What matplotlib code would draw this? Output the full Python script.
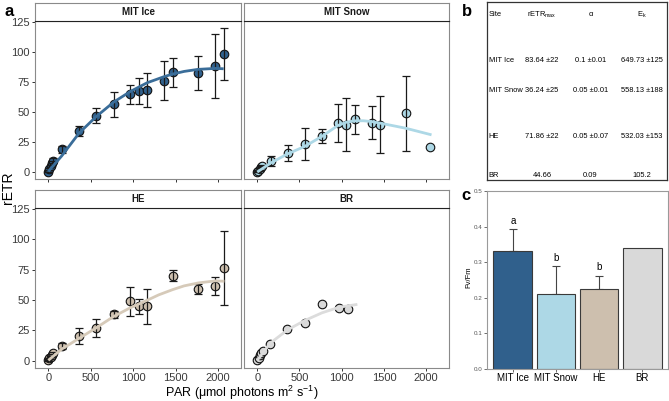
import numpy as np
import matplotlib.pyplot as plt

plt.rcParams.update({"font.family": ["Liberation Sans", "DejaVu Sans"],
                     "mathtext.fontset": "custom",
                     "mathtext.rm": "Liberation Sans",
                     "mathtext.it": "Liberation Sans:italic"})

W, H = 669, 401

# ---- panel a data: rapid light curves (PAR, rETR, se) ----
ice_par = [0, 12, 27, 43, 60, 158, 362, 563, 772, 968, 1067, 1165, 1358, 1464, 1763, 1967, 2066]
ice_etr = [0, 2.5, 5, 7.5, 9.5, 19.0, 34.2, 46.9, 56.3, 64.6, 67.6, 67.9, 75.9, 82.8, 82.5, 88.3, 97.9]
ice_se = [0.3, 0.6, 1.0, 1.5, 2.0, 3.0, 4.4, 6.0, 10.6, 7.9, 10.9, 14.0, 16.3, 12.0, 14.2, 26.7, 21.5]
ice_fit_par = [0, 158, 362, 563, 772, 968, 1165, 1358, 1464, 1600, 1763, 1967, 2066]
ice_fit = [0.5, 13.4, 32.3, 46.0, 58.2, 67.0, 74.2, 79.1, 81.4, 83.6, 85.3, 86.1, 85.8]

snow_par = [0, 12, 27, 43, 60, 157, 360, 560, 763, 953, 1050, 1152, 1355, 1457, 1757, 2050]
snow_etr = [0, 1.2, 2.5, 3.8, 5.0, 9.1, 16.0, 23.2, 29.8, 40.8, 39.4, 43.9, 41.1, 39.4, 48.8, 20.9]
snow_se = [0.2, 0.4, 0.6, 0.8, 1.0, 4.0, 6.5, 13.0, 6.0, 15.5, 22.0, 12.0, 13.4, 23.5, 31.0, None]
snow_fit_par = [0, 157, 360, 560, 763, 953, 1050, 1152, 1255, 1355, 1457, 1757, 2063]
snow_fit = [0, 7.4, 15.1, 21.2, 29.5, 38.6, 41.3, 42.5, 42.6, 41.9, 40.6, 36.4, 30.9]

he_par = [0, 12, 27, 43, 60, 158, 362, 563, 768, 965, 1063, 1162, 1464, 1767, 1967, 2066]
he_etr = [0.5, 2.0, 3.5, 5.0, 6.5, 12.1, 20.4, 27.1, 38.3, 48.8, 44.7, 44.7, 69.8, 58.8, 61.3, 76.4]
he_se = [0.2, 0.4, 0.6, 0.8, 1.0, 2.5, 6.6, 7.3, 3.0, 12.0, 5.8, 14.4, 4.5, 4.0, 7.2, 30.3]
he_fit_par = [0, 158, 362, 563, 768, 965, 1162, 1300, 1464, 1600, 1767, 1967, 2075]
he_fit = [0.5, 9.7, 18.5, 27.1, 36.4, 43.6, 49.7, 54.2, 58.5, 61.6, 64.0, 65.7, 65.4]

br_par = [0, 15, 32, 50, 70, 149, 356, 560, 767, 971, 1072]
br_etr = [0.5, 2.8, 4.9, 6.6, 8.3, 13.8, 26.2, 31.2, 46.4, 43.6, 42.8]
br_se = [None] * 11
br_fit_par = [0, 149, 356, 560, 767, 971, 1185]
br_fit = [0.5, 14.3, 25.4, 33.1, 39.5, 44.1, 46.4]

# ---- panel b table ----
tab_header = ["Site", r"rETR$_{\mathregular{max}}$", "\u03b1", r"E$_{\mathregular{k}}$"]
tab_sites = ["MIT Ice", "MIT Snow", "HE", "BR"]
tab_retr = ["83.64 \u00b122", "36.24 \u00b125", "71.86 \u00b122", "44.66"]
tab_alpha = ["0.1 \u00b10.01", "0.05 \u00b10.01", "0.05 \u00b10.07", "0.09"]
tab_ek = ["649.73 \u00b1125", "558.13 \u00b1188", "532.03 \u00b1153", "105.2"]

# ---- panel c: Fv/Fm ----
fv_sites = ["MIT Ice", "MIT Snow", "HE", "BR"]
fv_fm = [0.332, 0.211, 0.224, 0.340]
fv_se = [0.061, 0.078, 0.038, 0.0]
fv_sig = ["a", "b", "b", ""]

fill_cols = ["#30608c", "#add8e6", "#cdbfae", "#d9d9d9"]
line_cols = ["#3a6d99", "#add8e6", "#d6cab9", "#dcdcdc"]


def box(x0, y0, x1, y1):
    return [x0 / W, 1 - y1 / H, (x1 - x0) / W, (y1 - y0) / H]


fig = plt.figure(figsize=(W / 100, H / 100), dpi=100)
fig.patch.set_facecolor("white")

facets = [
    ("MIT Ice", ice_par, ice_etr, ice_se, ice_fit_par, ice_fit, (35, 21, 241, 179), True, False),
    ("MIT Snow", snow_par, snow_etr, snow_se, snow_fit_par, snow_fit, (244, 21, 449, 179), False, False),
    ("HE", he_par, he_etr, he_se, he_fit_par, he_fit, (35, 208, 241, 368), True, True),
    ("BR", br_par, br_etr, br_se, br_fit_par, br_fit, (244, 208, 449, 368), False, True),
]

for i, (name, par, etr, se, fpar, fval, pos, ylab, xlab) in enumerate(facets):
    x0, y0, x1, y1 = pos
    ax = fig.add_axes(box(x0, y0, x1, y1))
    ax.scatter(par, etr, s=38, color=fill_cols[i], edgecolor="#111111", linewidth=0.8, zorder=2)
    idx = [k for k, e in enumerate(se) if e is not None]
    if idx:
        ax.errorbar([par[k] for k in idx], [etr[k] for k in idx], yerr=[se[k] for k in idx],
                    fmt="none", ecolor="#1a1a1a", elinewidth=0.9, capsize=3, capthick=0.9, zorder=3)
    ax.plot(fpar, fval, color=line_cols[i], lw=2.0, zorder=4, solid_capstyle="butt")
    ax.set_xlim(-157, 2270)
    ax.set_ylim(-5.8, 125.5)
    ax.set_xticks([0, 500, 1000, 1500, 2000])
    ax.set_yticks([0, 25, 50, 75, 100, 125])
    ax.tick_params(axis="both", length=2.5, width=0.7, color="#333333", labelsize=8,
                   labelcolor="#3a3a3a", pad=1.2)
    if not ylab:
        ax.tick_params(axis="y", left=False, labelleft=False)
    if not xlab:
        ax.tick_params(axis="x", labelbottom=False)
    for s in ax.spines.values():
        s.set_color("#8a8a8a")
        s.set_linewidth(0.8)
    # strip
    sy0 = 3 if y0 < 100 else 190
    st = fig.add_axes(box(x0, sy0, x1, y0))
    st.set_xticks([])
    st.set_yticks([])
    for s in st.spines.values():
        s.set_color("#8a8a8a")
        s.set_linewidth(0.8)
    st.spines["bottom"].set_color("#222222")
    st.text(0.5, 0.5, name, ha="center", va="center", fontsize=7, fontweight="bold",
            color="#1a1a1a", transform=st.transAxes)

fig.text(8 / W, 1 - 188 / H, "rETR", rotation=90, ha="center", va="center", fontsize=10)
fig.text(242 / W, 1 - 393 / H, "PAR (\u03bcmol photons m$^{2}$ s$^{-1}$)", ha="center",
         va="center", fontsize=9)

# ---- panel b ----
tb = fig.add_axes(box(487, 2, 667, 180))
tb.set_xlim(0, 1)
tb.set_ylim(1, 0)
tb.set_xticks([])
tb.set_yticks([])
for s in tb.spines.values():
    s.set_color("#333333")
    s.set_linewidth(0.9)
fs_tab = 5.4
col_x = [0.01, 0.305, 0.575, 0.862]
row_y = [0.331, 0.5, 0.758, 0.975]
tb.text(col_x[0], 0.073, tab_header[0], ha="left", va="center", fontsize=fs_tab)
for c in range(1, 4):
    tb.text(col_x[c], 0.073, tab_header[c], ha="center", va="center", fontsize=fs_tab)
for r in range(4):
    tb.text(col_x[0], row_y[r], tab_sites[r], ha="left", va="center", fontsize=fs_tab)
    tb.text(col_x[1], row_y[r], tab_retr[r], ha="center", va="center", fontsize=fs_tab)
    tb.text(col_x[2], row_y[r], tab_alpha[r], ha="center", va="center", fontsize=fs_tab)
    tb.text(col_x[3], row_y[r], tab_ek[r], ha="center", va="center", fontsize=fs_tab)

# ---- panel c ----
bc = fig.add_axes(box(487, 191, 668, 369))
xs = np.arange(len(fv_sites))
bc.bar(xs, fv_fm, width=0.9, color=fill_cols, edgecolor="#3a3a3a", linewidth=0.8, zorder=2)
ei = [k for k in xs if fv_se[k] > 0]
bc.errorbar(xs[ei], np.array(fv_fm)[ei], yerr=[np.zeros(len(ei)), np.array(fv_se)[ei]],
            fmt="none", ecolor="#444444", elinewidth=0.8, capsize=3, capthick=0.8, zorder=1)
for k in ei:
    bc.text(xs[k], fv_fm[k] + fv_se[k] + 0.024, fv_sig[k], ha="center", va="center", fontsize=7)
bc.set_xlim(-0.6, 3.6)
bc.set_ylim(0, 0.5)
bc.set_xticks(xs)
bc.set_xticklabels(fv_sites)
bc.set_yticks([0, 0.1, 0.2, 0.3, 0.4, 0.5])
bc.set_yticklabels(["0.0", "0.1", "0.2", "0.3", "0.4", "0.5"])
bc.tick_params(axis="x", length=2, width=0.6, labelsize=7, pad=1, color="#555555")
bc.tick_params(axis="y", length=2, width=0.6, labelsize=4.5, pad=1, color="#555555",
               labelcolor="#555555")
for s in bc.spines.values():
    s.set_color("#9a9a9a")
    s.set_linewidth(0.8)
fig.text(469 / W, 1 - 277 / H, "Fv/Fm", rotation=90, ha="center", va="center", fontsize=5.5)

fig.text(9 / W, 1 - 11 / H, "a", ha="center", va="center", fontsize=12, fontweight="bold")
fig.text(467 / W, 1 - 11 / H, "b", ha="center", va="center", fontsize=12, fontweight="bold")
fig.text(466 / W, 1 - 196 / H, "c", ha="center", va="center", fontsize=12, fontweight="bold")

fig.savefig("out.png", dpi=100)
